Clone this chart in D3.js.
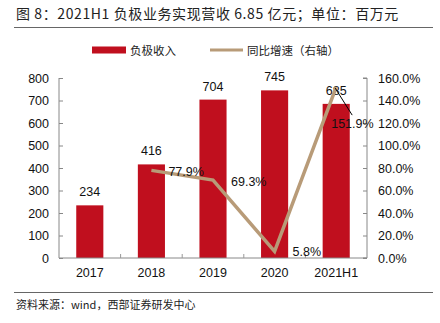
<!DOCTYPE html>
<html><head><meta charset="utf-8">
<script src="https://cdn.jsdelivr.net/npm/d3@7"></script>
<style>
body{margin:0;background:#fff;}
text{font-family:"Liberation Sans",Arial,"Noto Sans CJK SC",sans-serif;}
.cn{font-family:"Noto Sans CJK SC",sans-serif;}
</style></head>
<body>
<svg id="c" width="440" height="323"></svg>
<script>
const categories = ["2017","2018","2019","2020","2021H1"];
const revenue = [234, 416, 704, 745, 685];
const growth = [null, 77.9, 69.3, 5.8, 151.9];
const leftTicks = [0,100,200,300,400,500,600,700,800];
const rightTicks = [0,20,40,60,80,100,120,140,160];

const svg = d3.select("#c");
const L = 59, R = 367, T = 78, B = 258;
const barColor = "#c00f1e", lineColor = "#b89b78";

// title
svg.append("text").attr("x",16).attr("y",19).attr("font-size",14).attr("fill","#222")
  .attr("class","cn").attr("letter-spacing",0.6).text("图 8：2021H1 负极业务实现营收 6.85 亿元；单位：百万元");
svg.append("line").attr("x1",14).attr("x2",433).attr("y1",27.5).attr("y2",27.5).attr("stroke","#666").attr("stroke-width",1);

// legend
svg.append("rect").attr("x",92).attr("y",46.5).attr("width",34).attr("height",7).attr("fill",barColor);
svg.append("text").attr("x",130).attr("y",54.5).attr("font-size",11.5).attr("class","cn").attr("fill","#222").text("负极收入");
svg.append("line").attr("x1",210).attr("x2",243).attr("y1",50).attr("y2",50).attr("stroke",lineColor).attr("stroke-width",3);
svg.append("text").attr("x",247).attr("y",54.5).attr("font-size",11.5).attr("class","cn").attr("fill","#222").text("同比增速（右轴）");

const x = d3.scaleBand().domain(categories).range([L,R]).paddingInner(0.56).paddingOuter(0.28);
const xb = d3.scaleBand().domain(categories).range([L,R]);
const y = d3.scaleLinear().domain([0,800]).range([B,T]);
const y2 = d3.scaleLinear().domain([0,160]).range([B,T]);

// bars
svg.selectAll(".bar").data(revenue).enter().append("rect")
  .attr("x",(d,i)=>x(categories[i])).attr("width",x.bandwidth())
  .attr("y",d=>y(d)).attr("height",d=>B-y(d)).attr("fill",barColor);

// axes
const axL = svg.append("g").attr("transform",`translate(${L},0)`)
  .call(d3.axisLeft(y).tickValues(leftTicks).tickSize(-4).tickPadding(10));
const axR = svg.append("g").attr("transform",`translate(${R},0)`)
  .call(d3.axisRight(y2).tickValues(rightTicks).tickSize(-4).tickPadding(11).tickFormat(d=>d.toFixed(1)+"%"));
const axB = svg.append("g").attr("transform",`translate(0,${B})`)
  .call(d3.axisBottom(xb).tickSize(0).tickPadding(10));
// x band separator ticks
svg.selectAll(".sep").data(categories.slice(1)).enter().append("line")
  .attr("x1",d=>xb(d)).attr("x2",d=>xb(d)).attr("y1",B-4).attr("y2",B).attr("stroke","#999");
[axL,axR,axB].forEach(a=>{
  a.selectAll("path").attr("stroke","#888");
  a.selectAll("line").attr("stroke","#888");
  a.selectAll("text").attr("font-size",12.5).attr("fill","#111").attr("font-family","Liberation Sans, Arial, sans-serif");
});
axL.select("path").attr("d",`M0,${T}H0V${B}H0`);
axR.select("path").attr("d",`M-4,${T}H0V${B}H-4`);
axB.select("path").attr("d",`M${L},0H${R}`);

// bar labels
svg.selectAll(".bl").data(revenue).enter().append("text")
  .attr("x",(d,i)=>xb(categories[i])+xb.bandwidth()/2).attr("y",d=>y(d)-9)
  .attr("text-anchor","middle").attr("font-size",12.5).attr("fill","#111").text(d=>d);

// line
const pts = growth.map((g,i)=>({c:categories[i],g})).filter(d=>d.g!==null);
const line = d3.line().x(d=>xb(d.c)+xb.bandwidth()/2).y(d=>y2(d.g));
svg.append("path").datum(pts).attr("d",line).attr("fill","none").attr("stroke",lineColor).attr("stroke-width",3.5).attr("stroke-linejoin","miter");

// line labels
const off = {"2018":[17,6],"2019":[18,6],"2020":[18,5],"2021H1":[0,0]};
pts.forEach(d=>{
  const px = xb(d.c)+xb.bandwidth()/2, py = y2(d.g);
  if(d.c==="2021H1"){
    svg.append("line").attr("x1",px-1).attr("y1",py+1).attr("x2",px+16).attr("y2",py+28).attr("stroke","#000").attr("stroke-width",1);
    svg.append("text").attr("x",px-5).attr("y",py+41).attr("font-size",12.5).attr("fill","#111").text(d.g.toFixed(1)+"%");
  } else {
    svg.append("text").attr("x",px+off[d.c][0]).attr("y",py+off[d.c][1]).attr("font-size",12.5).attr("fill","#111").text(d.g.toFixed(1)+"%");
  }
});

// footer
svg.append("line").attr("x1",14).attr("x2",433).attr("y1",292.5).attr("y2",292.5).attr("stroke","#666").attr("stroke-width",1);
svg.append("text").attr("x",16).attr("y",309).attr("font-size",11).attr("class","cn").attr("fill","#222").text("资料来源：wind，西部证券研发中心");
</script>
</body></html>
